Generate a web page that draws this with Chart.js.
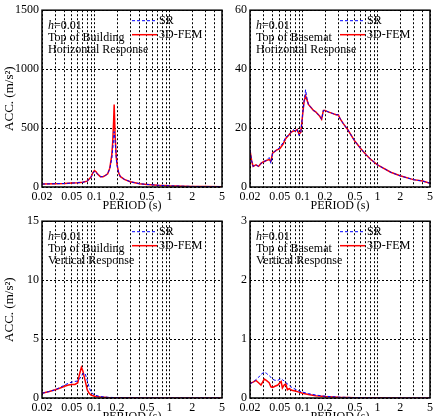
<!DOCTYPE html>
<html>
<head>
<meta charset="utf-8">
<script src="https://cdn.jsdelivr.net/npm/chart.js@4.4.1/dist/chart.umd.min.js"></script>
<style>
  html, body { margin: 0; padding: 0; background: #fff; overflow: hidden; width: 436px; height: 416px; }
  canvas { position: absolute; }
</style>
</head>
<body>
<canvas id="c1" width="232" height="216" style="left:0;top:0"></canvas>
<canvas id="c2" width="232" height="216" style="left:208px;top:0"></canvas>
<canvas id="c3" width="232" height="216" style="left:0;top:211px"></canvas>
<canvas id="c4" width="232" height="216" style="left:208px;top:211px"></canvas>
<script>
// x axis: grid at every 1..9 multiple, labels only on some
const xGrid = [0.02, 0.03, 0.04, 0.05, 0.06, 0.07, 0.08, 0.09, 0.1, 0.2, 0.3, 0.4, 0.5, 0.6, 0.7, 0.8, 0.9, 1, 2, 3, 4, 5];
const xLabels = [0.02, 0.05, 0.1, 0.2, 0.5, 1, 2, 5];

// Top of Building, horizontal
const bhPeriod = [0.02, 0.03, 0.04, 0.05, 0.06, 0.07, 0.08, 0.09, 0.095, 0.1, 0.105, 0.11, 0.12, 0.13, 0.14, 0.15, 0.16, 0.17, 0.175, 0.18, 0.183, 0.188, 0.195, 0.2, 0.21, 0.22, 0.25, 0.3, 0.4, 0.5, 0.7, 1, 1.5, 2, 3, 5];
const bhSR  = [25, 28, 30, 33, 36, 40, 50, 82, 115, 132, 125, 108, 88, 88, 98, 112, 155, 240, 320, 420, 470, 400, 250, 185, 120, 90, 65, 45, 28, 22, 15, 10, 7, 5, 4, 3];
const bhFEM = [25, 28, 30, 33, 36, 40, 50, 85, 120, 140, 130, 110, 88, 88, 98, 112, 160, 270, 380, 560, 700, 450, 260, 190, 120, 90, 65, 45, 28, 22, 15, 10, 7, 5, 4, 3];

// Top of Basemat, horizontal
const mhPeriod = [0.02, 0.021, 0.022, 0.024, 0.026, 0.028, 0.03, 0.033, 0.036, 0.038, 0.04, 0.045, 0.05, 0.055, 0.06, 0.065, 0.07, 0.075, 0.08, 0.085, 0.09, 0.095, 0.1, 0.105, 0.11, 0.115, 0.12, 0.13, 0.14, 0.15, 0.17, 0.18, 0.19, 0.2, 0.22, 0.25, 0.28, 0.3, 0.32, 0.35, 0.4, 0.5, 0.6, 0.7, 0.8, 1, 1.5, 2, 3, 4, 5];
const mhSR  = [12.5, 9, 7, 7.5, 7, 8, 8.5, 9, 10, 8, 11.5, 12.5, 13.5, 15, 17, 17.5, 18.5, 19.5, 19, 19.5, 17.5, 18.5, 24, 29, 33, 30, 28, 27, 26, 25.5, 24, 23, 26, 26, 25.5, 25, 24.5, 24.5, 23, 21.5, 19.5, 15.5, 13, 11, 9.5, 7.5, 5, 3.8, 2.5, 2, 1.3];
const mhFEM = [12.5, 9, 7, 7.5, 7, 8, 8.5, 9, 9.3, 8.8, 11.5, 12.5, 13, 14.5, 16.5, 17.5, 18.5, 19, 19, 19.5, 18, 18.5, 24, 29, 31, 29.5, 28, 27, 26, 25.5, 24, 23, 26, 26, 25.5, 25, 24.5, 24.5, 23, 21.5, 19.5, 15.5, 13, 11, 9.5, 7.5, 5, 3.8, 2.5, 2, 1.3];

// Top of Building, vertical
const bvPeriod = [0.02, 0.025, 0.03, 0.035, 0.04, 0.045, 0.05, 0.055, 0.06, 0.063, 0.067, 0.07, 0.075, 0.08, 0.085, 0.09, 0.1, 0.12, 0.15, 0.2, 0.3, 0.5, 1, 2, 5];
const bvSR  = [0.4, 0.55, 0.7, 0.9, 1.1, 1.25, 1.35, 1.4, 1.45, 1.6, 1.9, 2.05, 2.1, 1.5, 0.9, 0.5, 0.25, 0.12, 0.06, 0.03, 0.02, 0.01, 0.01, 0.01, 0.01];
const bvFEM = [0.4, 0.55, 0.7, 0.85, 1.0, 1.1, 1.15, 1.15, 1.3, 2.0, 2.6, 2.3, 1.5, 0.7, 0.4, 0.25, 0.15, 0.08, 0.05, 0.03, 0.02, 0.01, 0.01, 0.01, 0.01];

// Top of Basemat, vertical
const mvPeriod = [0.02, 0.022, 0.024, 0.026, 0.028, 0.031, 0.033, 0.036, 0.038, 0.04, 0.043, 0.047, 0.05, 0.052, 0.054, 0.057, 0.06, 0.063, 0.067, 0.072, 0.08, 0.09, 0.1, 0.12, 0.15, 0.2, 0.3, 0.5, 1, 2, 5];
const mvSR  = [0.24, 0.27, 0.31, 0.35, 0.4, 0.44, 0.42, 0.38, 0.35, 0.32, 0.3, 0.3, 0.32, 0.33, 0.31, 0.29, 0.26, 0.24, 0.21, 0.18, 0.15, 0.12, 0.1, 0.075, 0.05, 0.03, 0.015, 0.007, 0.003, 0.002, 0.001];
const mvFEM = [0.25, 0.27, 0.3, 0.26, 0.22, 0.32, 0.3, 0.26, 0.19, 0.18, 0.2, 0.22, 0.26, 0.28, 0.17, 0.22, 0.24, 0.14, 0.16, 0.13, 0.12, 0.1, 0.08, 0.06, 0.04, 0.025, 0.012, 0.006, 0.003, 0.002, 0.001];

const SERIF = '"Liberation Serif", "Times New Roman", serif';
Chart.defaults.font.family = SERIF;
Chart.defaults.font.size = 12;
Chart.defaults.color = '#000';

// frame, note text and legend drawn inside the plot area
const panelDeco = {
    id: 'panelDeco',
    afterDraw(chart, args, opts) {
        const { ctx, chartArea: a } = chart;
        ctx.save();
        ctx.strokeStyle = '#000';
        ctx.lineWidth = 1.5;
        ctx.strokeRect(a.left, a.top, a.right - a.left, a.bottom - a.top);

        ctx.fillStyle = '#000';
        ctx.textBaseline = 'alphabetic';
        const x0 = a.left + 6;
        ctx.font = 'italic 12px ' + SERIF;
        ctx.fillText('h', x0, a.top + 19);
        const hw = ctx.measureText('h').width;
        ctx.font = '12px ' + SERIF;
        ctx.fillText('=0.01', x0 + hw, a.top + 19);
        opts.lines.forEach((t, i) => ctx.fillText(t, x0, a.top + 31 + 12 * i));

        chart.data.datasets.forEach((ds, i) => {
            const y = a.top + 10.5 + 14 * i;
            ctx.strokeStyle = ds.borderColor;
            ctx.lineWidth = ds.borderWidth;
            ctx.setLineDash(ds.borderDash || []);
            ctx.beginPath();
            ctx.moveTo(a.left + 90, y);
            ctx.lineTo(a.left + 115, y);
            ctx.stroke();
            ctx.setLineDash([]);
            ctx.textBaseline = 'middle';
            ctx.fillText(ds.label, a.left + 117, y);
        });
        ctx.restore();
    }
};

function toPoints(xs, ys) {
    return xs.map((x, i) => ({ x: x, y: ys[i] }));
}

function makePanel(id, period, sr, fem, yMax, yStep, lines, showYTitle) {
    new Chart(document.getElementById(id), {
        type: 'line',
        data: {
            datasets: [{
                label: 'SR',
                data: toPoints(period, sr),
                borderColor: '#0000ff',
                borderWidth: 1,
                borderDash: [3, 2],
                pointRadius: 0,
                tension: 0
            }, {
                label: '3D-FEM',
                data: toPoints(period, fem),
                borderColor: '#ff0000',
                borderWidth: 1.5,
                pointRadius: 0,
                tension: 0
            }]
        },
        options: {
            responsive: false,
            animation: false,
            layout: { padding: { top: 7, right: 10, left: 0, bottom: 0 } },
            plugins: {
                legend: { display: false },
                tooltip: { enabled: false },
                panelDeco: { lines: lines }
            },
            scales: {
                x: {
                    type: 'logarithmic',
                    min: 0.02,
                    max: 5,
                    afterBuildTicks: s => { s.ticks = xGrid.map(v => ({ value: v })); },
                    afterFit: s => { s.height = 29; },
                    grid: { color: '#000', lineWidth: 1, drawTicks: false },
                    border: { display: false, dash: [2, 2] },
                    ticks: {
                        autoSkip: false,
                        maxRotation: 0,
                        padding: 3,
                        callback: v => xLabels.includes(v) ? String(v) : ''
                    },
                    title: { display: true, text: 'PERIOD (s)', padding: { top: 0, bottom: 3 } }
                },
                y: {
                    min: 0,
                    max: yMax,
                    afterFit: s => { s.width = 42; },
                    grid: { color: '#000', lineWidth: 1, drawTicks: false },
                    border: { display: false, dash: [2, 2] },
                    ticks: { stepSize: yStep, padding: 3, callback: v => String(v) },
                    title: {
                        display: showYTitle,
                        text: 'ACC. (m/s\u00B2)',
                        font: { size: 13 },
                        padding: { top: 2, bottom: 0 }
                    }
                }
            }
        },
        plugins: [panelDeco]
    });
}

makePanel('c1', bhPeriod, bhSR, bhFEM, 1500, 500, ['Top of Building', 'Horizontal Response'], true);
makePanel('c2', mhPeriod, mhSR, mhFEM, 60, 20, ['Top of Basemat', 'Horizontal Response'], false);
makePanel('c3', bvPeriod, bvSR, bvFEM, 15, 5, ['Top of Building', 'Vertical Response'], true);
makePanel('c4', mvPeriod, mvSR, mvFEM, 3, 1, ['Top of Basemat', 'Vertical Response'], false);
</script>
</body>
</html>
